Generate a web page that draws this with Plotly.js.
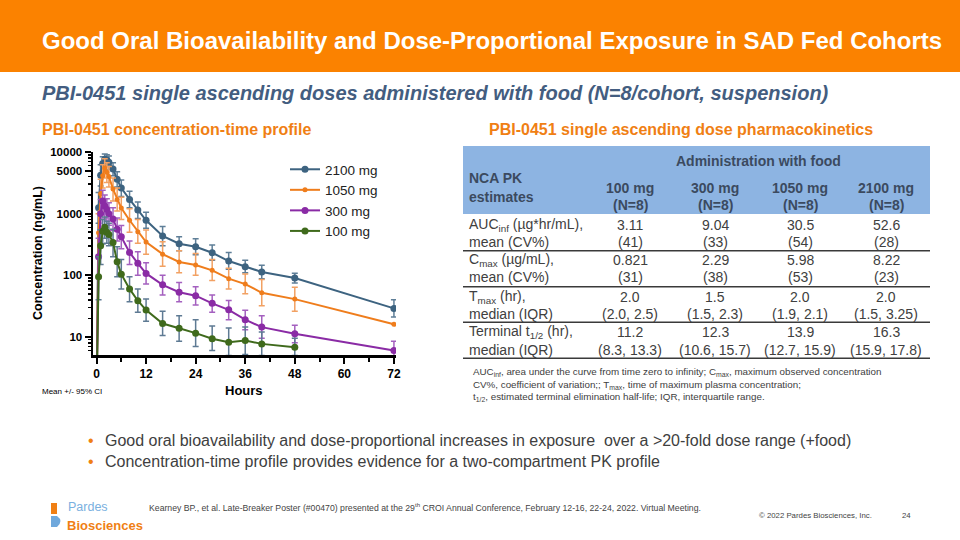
<!DOCTYPE html>
<html>
<head>
<meta charset="utf-8">
<script src="https://cdn.plot.ly/plotly-3.0.1.min.js"></script>
<style>html,body{margin:0;padding:0;background:#fff;}#chart{width:960px;height:540px;}</style>
</head>
<body>
<div id="chart"></div>
<script>
// ---------------- DATA ----------------
const hours = [0,0.5,1,1.5,2,2.5,3,4,5,6,8,10,12,16,20,24,28,32,36,40,48,72];

const conc2100 = [1,1250,4200,6500,7600,7400,6800,5300,3600,2600,1700,1150,780,435,325,290,232,170,138,113,90,29];
const lo2100   = [1,700,2800,5000,6000,5800,5200,4100,2700,1900,1250,830,580,300,250,215,175,125,110,88,75,21];
const hi2100   = [1,2200,6200,8400,9300,9000,8600,6700,4800,3500,2300,1550,1050,620,420,390,310,235,175,145,108,40];

const conc1050 = [1,490,2100,4100,5500,4700,4000,2500,1700,1230,780,510,346,220,164,147,120,88,72,52,41,16];
const lo1050   = [1,200,1100,2600,3800,3200,2700,1600,1100,800,500,330,220,140,110,100,82,60,50,32,26,16];
const hi1050   = [1,1000,3600,6200,7800,6700,5800,3800,2600,1850,1200,800,540,350,250,225,180,130,105,85,64,16];

const conc300 = [1,200,1000,1600,1330,1170,1000,820,560,420,235,156,107,70,53,46.6,35,27.5,19,14.4,11.2,6];
const lo300   = [1,90,550,1000,850,750,650,530,360,270,150,100,72,48,37,33,25,19,13,9.5,8,4.3];
const hi300   = [1,400,1700,2400,2000,1750,1500,1250,850,640,360,240,160,100,76,65,48,39,27,22,15.5,8.5];

const conc100 = [1,95,300,520,600,500,460,340,165,104,60,38.6,27.2,16.5,13.8,11.5,9.3,8.2,8.7,7.7,6.8,null];
const lo100   = [1,40,150,320,400,330,300,200,95,60,37,25,18,10.5,8.5,7,6,5,5.2,5,5,null];
const hi100   = [1,200,550,800,880,750,700,560,290,180,95,60,41,26,22,19,15,14,14.5,12,9.5,null];

const seriesNames = ["2100 mg","1050 mg","300 mg","100 mg"];
const xTickVals = [0,12,24,36,48,60,72];
const yTickVals = [10,100,1000,5000,10000];
const yTickText = ["10","100","1000","5000","10000"];

// table
const doseHeaders = ["100 mg","300 mg","1050 mg","2100 mg"];
const doseN = ["(N=8)","(N=8)","(N=8)","(N=8)"];
const rowLabel1 = ["AUC<sub>inf</sub> (µg*hr/mL),","C<sub>max</sub> (µg/mL),","T<sub>max</sub> (hr),","Terminal t<sub>1/2</sub> (hr),"];
const rowLabel2 = ["mean (CV%)","mean (CV%)","median (IQR)","median (IQR)"];
const aucMean = ["3.11","9.04","30.5","52.6"];
const aucCV = ["(41)","(33)","(54)","(28)"];
const cmaxMean = ["0.821","2.29","5.98","8.22"];
const cmaxCV = ["(31)","(38)","(53)","(23)"];
const tmaxMed = ["2.0","1.5","2.0","2.0"];
const tmaxIQR = ["(2.0, 2.5)","(1.5, 2.3)","(1.9, 2.1)","(1.5, 3.25)"];
const thalfMed = ["11.2","12.3","13.9","16.3"];
const thalfIQR = ["(8.3, 13.3)","(10.6, 15.7)","(12.7, 15.9)","(15.9, 17.8)"];

// ---------------- LAYOUT HELPERS ----------------
const W = 960, H = 540;
const F = "Liberation Sans, Arial, sans-serif";
const px = x => x / W;
const py = y => 1 - y / H;
function T(x, y, text, o) {
  o = o || {};
  return {xref:'paper', yref:'paper', x:px(x), y:py(y), text:text, showarrow:false,
          xanchor:o.xa || 'left', yanchor:o.ya || 'middle', textangle:o.ang || 0,
          font:{family:o.f || F, size:o.s || 14, color:o.c || '#404040'}};
}
function mkTrace(name, y, lo, hi, color, ecolor, msize) {
  return {
    x: hours, y: y, name: name, type: 'scatter', mode: 'lines+markers',
    line: {color: color, width: 2},
    marker: {color: color, size: msize, symbol: 'circle'},
    error_y: {type:'data', symmetric:false,
      array: y.map((v,i) => v == null ? null : hi[i] - v),
      arrayminus: y.map((v,i) => v == null ? null : v - lo[i]),
      color: ecolor, thickness: 1.5, width: 3},
    legendgroup: name
  };
}

const traces = [
  mkTrace(seriesNames[0], conc2100, lo2100, hi2100, '#3d6380', '#5f7f98', 7),
  mkTrace(seriesNames[1], conc1050, lo1050, hi1050, '#ef7d1c', '#f2a163', 5),
  mkTrace(seriesNames[2], conc300, lo300, hi300, '#8a2ba5', '#a460bf', 7),
  mkTrace(seriesNames[3], conc100, lo100, hi100, '#3f6a1c', '#5e7a93', 7)
];

// minor ticks
const yMinor = [];
[1,10,100,1000].forEach(d => { for (let k=2;k<=9;k++) { const v=k*d; if (v>=5 && v<=10000 && v!==5000) yMinor.push(v); } });
const xMinor = [6,18,30,42,54,66];

const annotations = [];
const shapes = [];

// banner
shapes.push({type:'rect', xref:'paper', yref:'paper', x0:0, x1:1, y0:py(72), y1:1, fillcolor:'#fb8200', line:{width:0}, layer:'below'});
annotations.push(T(40, 40, '<b>Good Oral Bioavailability and Dose-Proportional Exposure in SAD Fed Cohorts</b>', {s:24, c:'#ffffff'}));
annotations.push(T(40, 93, '<b><i>PBI-0451 single ascending doses administered with food (N=8/cohort, suspension)</i></b>', {s:20, c:'#435d80'}));
annotations.push(T(40, 129, '<b>PBI-0451 concentration-time profile</b>', {s:16, c:'#f07f14'}));
annotations.push(T(487, 129, '<b>PBI-0451 single ascending dose pharmacokinetics</b>', {s:16, c:'#f07f14'}));

// chart labels
annotations.push(T(38, 253, '<b>Concentration (ng/mL)</b>', {s:12.5, c:'#000', xa:'center', ang:-90}));
annotations.push(T(244, 390, '<b>Hours</b>', {s:13, c:'#000', xa:'center'}));
annotations.push(T(40, 391, 'Mean +/- 95% CI', {s:8, c:'#000'}));

// table header
shapes.push({type:'rect', xref:'paper', yref:'paper', x0:px(463), x1:px(930), y0:py(214), y1:py(146), fillcolor:'#8db4e2', line:{width:0}, layer:'below'});
const HC = '#3b4a5f';
annotations.push(T(758, 161, '<b>Administration with food</b>', {s:14, c:HC, xa:'center'}));
annotations.push(T(467, 178, '<b>NCA PK</b>', {s:14, c:HC}));
annotations.push(T(467, 197, '<b>estimates</b>', {s:14, c:HC}));
const colX = [630, 715, 800, 886];
doseHeaders.forEach((d,i) => {
  annotations.push(T(colX[i], 188, '<b>'+d+'</b>', {s:14, c:HC, xa:'center'}));
  annotations.push(T(colX[i], 205, '<b>'+doseN[i]+'</b>', {s:14, c:HC, xa:'center'}));
});
const rowY1 = [225, 260, 296.7, 332.3];
const rowY2 = [241.7, 276.7, 314.3, 350];
const sepY = [250.7, 286.7, 322.3, 358.3];
const vals1 = [aucMean, cmaxMean, tmaxMed, thalfMed];
const vals2 = [aucCV, cmaxCV, tmaxIQR, thalfIQR];
for (let r=0; r<4; r++) {
  annotations.push(T(467, rowY1[r], rowLabel1[r], {s:14}));
  annotations.push(T(467, rowY2[r], rowLabel2[r], {s:14}));
  for (let c=0; c<4; c++) {
    annotations.push(T(colX[c], rowY1[r], vals1[r][c], {s:14, xa:'center'}));
    annotations.push(T(colX[c], rowY2[r], vals2[r][c], {s:14, xa:'center'}));
  }
  shapes.push({type:'line', xref:'paper', yref:'paper', x0:px(463), x1:px(930), y0:py(sepY[r]), y1:py(sepY[r]), line:{color:'#3a3a3a', width:1.6}});
}
annotations.push(T(471, 372, 'AUC<sub>inf</sub>, area under the curve from time zero to infinity; C<sub>max</sub>, maximum observed concentration', {s:9.8}));
annotations.push(T(471, 384.5, 'CV%, coefficient of variation;; T<sub>max</sub>, time of maximum plasma concentration;', {s:9.8}));
annotations.push(T(471, 397, 't<sub>1/2</sub>, estimated terminal elimination half-life; IQR, interquartile range.', {s:9.8}));

// bullets
annotations.push(T(86, 440, '•', {s:16, c:'#f07f14'}));
annotations.push(T(86, 461, '•', {s:16, c:'#f07f14'}));
annotations.push(T(103, 440, 'Good oral bioavailability and dose-proportional increases in exposure  over a >20-fold dose range (+food)', {s:16}));
annotations.push(T(103, 461, 'Concentration-time profile provides evidence for a two-compartment PK profile', {s:16}));

// footer
annotations.push(T(147, 507, 'Kearney BP., et al. Late-Breaker Poster (#00470) presented at the 29<sup>th</sup> CROI Annual Conference, February 12-16, 22-24, 2022. Virtual Meeting.', {s:8.7, c:'#444'}));
annotations.push(T(757, 515, '© 2022 Pardes Biosciences, Inc.', {s:7.8, c:'#444'}));
annotations.push(T(900, 515, '24', {s:7.8, c:'#444'}));
// logo
shapes.push({type:'path', xref:'paper', yref:'paper', path:
  'M '+px(51)+' '+py(503)+' L '+px(57)+' '+py(503)+' L '+px(57)+' '+py(514)+' L '+px(51)+' '+py(514)+' Z', fillcolor:'#f07f14', line:{width:0}});
shapes.push({type:'path', xref:'paper', yref:'paper', path:
  'M '+px(51)+' '+py(516)+' L '+px(57)+' '+py(516)+' Q '+px(64)+' '+py(521)+' '+px(57)+' '+py(527)+' L '+px(51)+' '+py(527)+' Z', fillcolor:'#6fa8dc', line:{width:0}});
annotations.push(T(66, 507, 'Pardes', {s:12.5, c:'#7ab0e0'}));
annotations.push(T(65, 525, '<b>Biosciences</b>', {s:13, c:'#f07f14'}));

const layout = {
  width: W, height: H,
  margin: {l:0, r:0, t:0, b:0},
  paper_bgcolor: '#ffffff', plot_bgcolor: 'rgba(0,0,0,0)',
  showlegend: true,
  legend: {x: px(285), y: py(154), xanchor:'left', yanchor:'top', bgcolor:'rgba(0,0,0,0)',
           font:{family:F, size:13.5, color:'#222'}, traceorder:'normal', tracegroupgap: 1},
  xaxis: {domain:[px(93), px(396)], range:[-0.85, 72.5], anchor:'y',
          showline:true, linewidth:2.5, linecolor:'#000', showgrid:false, zeroline:false,
          ticks:'outside', ticklen:6, tickwidth:2, tickcolor:'#000',
          tickvals: xTickVals, ticktext: xTickVals.map(String),
          tickfont:{family:F, size:12, color:'#000', weight:'bold'},
          minor:{tickvals: xMinor, ticks:'outside', ticklen:4, tickwidth:2, tickcolor:'#000'}},
  yaxis: {domain:[py(355), py(152)], type:'log', range:[0.706, 4.0], anchor:'x',
          showline:true, linewidth:2.5, linecolor:'#000', showgrid:false, zeroline:false,
          ticks:'outside', ticklen:6, tickwidth:2, tickcolor:'#000',
          tickvals: yTickVals, ticktext: yTickText,
          tickfont:{family:F, size:11.5, color:'#000', weight:'bold'},
          minor:{tickvals: yMinor, ticks:'outside', ticklen:3, tickwidth:1.5, tickcolor:'#000'}},
  annotations: annotations,
  shapes: shapes
};

Plotly.newPlot('chart', traces, layout, {displayModeBar:false, staticPlot:true});
</script>
</body>
</html>
